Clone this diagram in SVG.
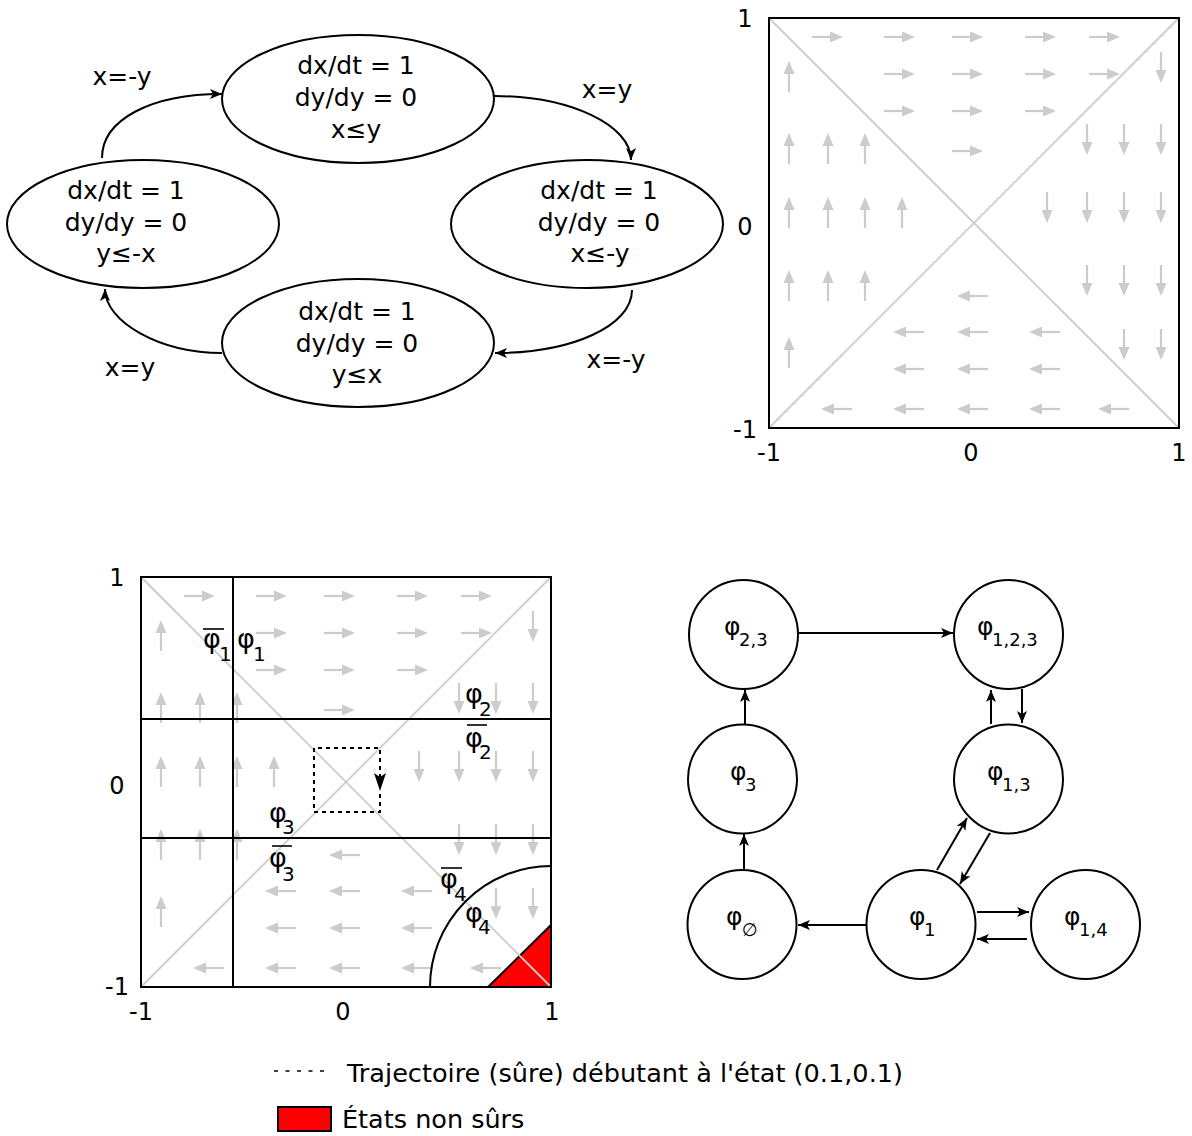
<svg xmlns="http://www.w3.org/2000/svg" xmlns:xlink="http://www.w3.org/1999/xlink" width="1192" height="1136" viewBox="0 0 1192 1136">
<style>
text{font-family:"DejaVu Sans","Liberation Sans",sans-serif;fill:#000}
.t{font-size:25px;text-anchor:middle}
.ax{font-size:24px;text-anchor:middle}
.ph{font-size:27px}
.sb{font-size:20px}
.gph{font-size:25px}
.gsb{font-size:18px}
.node{fill:#fff;stroke:#000;stroke-width:2}
.edge{fill:none;stroke:#000;stroke-width:2;marker-end:url(#m)}
.fs{stroke:#cccccc;stroke-width:2.2;fill:none}
.fh{fill:#cccccc}
.diag{stroke:#cccccc;stroke-width:1.8}
.box{fill:none;stroke:#000;stroke-width:2}
.bl{stroke:#000;stroke-width:2}
.ol{stroke:#000;stroke-width:1.6}
</style>
<defs>
<marker id="m" viewBox="-13 -6 14 12" refX="0" refY="0" markerWidth="14" markerHeight="12" orient="auto" markerUnits="userSpaceOnUse"><path d="M0,0L-12,-5L-9,0L-12,5Z" fill="#000"/></marker>
<g id="aR"><path class="fs" d="M0,0H20"/><path class="fh" d="M31,0L18,-5.5L18,5.5Z"/></g>
<g id="aL"><path class="fs" d="M0,0H-20"/><path class="fh" d="M-31,0L-18,-5.5L-18,5.5Z"/></g>
<g id="aU"><path class="fs" d="M0,0V-20"/><path class="fh" d="M0,-31L-5.5,-18L5.5,-18Z"/></g>
<g id="aD"><path class="fs" d="M0,0V20"/><path class="fh" d="M0,31L-5.5,18L5.5,18Z"/></g>
<g id="arrows">
<use href="#aR" x="43" y="19"/><use href="#aR" x="115" y="19"/><use href="#aR" x="183" y="19"/><use href="#aR" x="256" y="19"/><use href="#aR" x="320" y="19"/>
<use href="#aR" x="115" y="56"/><use href="#aR" x="183" y="56"/><use href="#aR" x="256" y="56"/><use href="#aR" x="320" y="56"/>
<use href="#aR" x="115" y="93"/><use href="#aR" x="183" y="93"/><use href="#aR" x="256" y="93"/>
<use href="#aR" x="183" y="133"/>
<use href="#aU" x="20" y="74"/>
<use href="#aU" x="20" y="146"/><use href="#aU" x="59" y="146"/><use href="#aU" x="96" y="146"/>
<use href="#aU" x="20" y="210"/><use href="#aU" x="59" y="210"/><use href="#aU" x="96" y="210"/><use href="#aU" x="133" y="210"/>
<use href="#aU" x="20" y="283"/><use href="#aU" x="59" y="283"/><use href="#aU" x="96" y="283"/>
<use href="#aU" x="20" y="350"/>
<use href="#aD" x="392" y="34"/>
<use href="#aD" x="318" y="106"/><use href="#aD" x="355" y="106"/><use href="#aD" x="392" y="106"/>
<use href="#aD" x="278" y="174"/><use href="#aD" x="318" y="174"/><use href="#aD" x="355" y="174"/><use href="#aD" x="392" y="174"/>
<use href="#aD" x="318" y="247"/><use href="#aD" x="355" y="247"/><use href="#aD" x="392" y="247"/>
<use href="#aD" x="355" y="311"/><use href="#aD" x="392" y="311"/>
<use href="#aL" x="219" y="278"/>
<use href="#aL" x="155" y="314"/><use href="#aL" x="219" y="314"/><use href="#aL" x="291" y="314"/>
<use href="#aL" x="155" y="351"/><use href="#aL" x="219" y="351"/><use href="#aL" x="291" y="351"/>
<use href="#aL" x="83" y="391"/><use href="#aL" x="155" y="391"/><use href="#aL" x="219" y="391"/><use href="#aL" x="291" y="391"/><use href="#aL" x="360" y="391"/>
</g>
</defs>

<!-- Top-left hybrid automaton -->
<g id="connectors-automaton">
<path class="edge" d="M102,158C102,120 150,94 222,94"/>
<path class="edge" d="M494,96C570,96 631,125 631,160"/>
<path class="edge" d="M632,290C632,326 572,353 495,353"/>
<path class="edge" d="M222,353C160,353 105,322 105,289"/>
<text class="t" x="122" y="85">x=-y</text>
<text class="t" x="607" y="98">x=y</text>
<text class="t" x="616" y="368">x=-y</text>
<text class="t" x="130" y="376">x=y</text>
</g>
<g id="state-top">
<ellipse class="node" cx="358" cy="99" rx="136" ry="64"/>
<text class="t" x="356" y="74">dx/dt = 1</text>
<text class="t" x="356" y="106">dy/dy = 0</text>
<text class="t" x="356" y="138">x≤y</text>
</g>
<g id="state-left">
<ellipse class="node" cx="143" cy="224" rx="136" ry="64"/>
<text class="t" x="126" y="199">dx/dt = 1</text>
<text class="t" x="126" y="231">dy/dy = 0</text>
<text class="t" x="126" y="262">y≤-x</text>
</g>
<g id="state-right">
<ellipse class="node" cx="587" cy="224" rx="136" ry="64"/>
<text class="t" x="599" y="199">dx/dt = 1</text>
<text class="t" x="599" y="231">dy/dy = 0</text>
<text class="t" x="600" y="262">x≤-y</text>
</g>
<g id="state-bottom">
<ellipse class="node" cx="358" cy="343" rx="136" ry="64"/>
<text class="t" x="357" y="320">dx/dt = 1</text>
<text class="t" x="357" y="352">dy/dy = 0</text>
<text class="t" x="357" y="383">y≤x</text>
</g>

<!-- Top-right vector field -->
<g id="field-top" transform="translate(769,18)">
<line class="diag" x1="0" y1="0" x2="410" y2="410"/>
<line class="diag" x1="0" y1="410" x2="410" y2="0"/>
<use href="#arrows"/>
<rect class="box" x="0" y="0" width="410" height="410"/>
</g>
<g id="field-top-axes">
<text class="ax" x="745" y="27">1</text>
<text class="ax" x="745" y="235">0</text>
<text class="ax" x="745" y="438">-1</text>
<text class="ax" x="769" y="461">-1</text>
<text class="ax" x="971" y="461">0</text>
<text class="ax" x="1179" y="461">1</text>
</g>

<!-- Bottom-left abstraction plot -->
<g id="field-bottom">
<g transform="translate(141,577)">
<path d="M347,410L410,410L410,348Z" fill="#ff0000" stroke="#000" stroke-width="2"/>
<line class="diag" x1="0" y1="0" x2="410" y2="410"/>
<line class="diag" x1="0" y1="410" x2="410" y2="0"/>
<use href="#arrows"/>
<rect class="box" x="0" y="0" width="410" height="410"/>
</g>
<line class="bl" x1="233" y1="577" x2="233" y2="987"/>
<line class="bl" x1="141" y1="719" x2="551" y2="719"/>
<line class="bl" x1="141" y1="838" x2="551" y2="838"/>
<path d="M430,987A121,121 0 0 1 551,866" fill="none" stroke="#000" stroke-width="2"/>
<path d="M380,778V748H314V812H380V790" fill="none" stroke="#000" stroke-width="2" stroke-dasharray="4,4"/>
<path d="M380,791L374,773L380,777L386,773Z" fill="#000"/>
<text class="ax" x="117" y="586">1</text>
<text class="ax" x="117" y="794">0</text>
<text class="ax" x="117" y="995">-1</text>
<text class="ax" x="141" y="1020">-1</text>
<text class="ax" x="343" y="1020">0</text>
<text class="ax" x="552" y="1020">1</text>
<line class="ol" x1="203" y1="629" x2="224" y2="629"/>
<text class="ph" x="203" y="648">φ<tspan class="sb" x="219" dy="13">1</tspan></text>
<text class="ph" x="237" y="648">φ<tspan class="sb" x="253" dy="13">1</tspan></text>
<text class="ph" x="465" y="703">φ<tspan class="sb" x="479" dy="13">2</tspan></text>
<line class="ol" x1="467" y1="725" x2="487" y2="725"/>
<text class="ph" x="465" y="747">φ<tspan class="sb" x="479" dy="12">2</tspan></text>
<text class="ph" x="269" y="822">φ<tspan class="sb" x="282" dy="12">3</tspan></text>
<line class="ol" x1="272" y1="846" x2="292" y2="846"/>
<text class="ph" x="269" y="867">φ<tspan class="sb" x="282" dy="14">3</tspan></text>
<line class="ol" x1="441" y1="868" x2="462" y2="868"/>
<text class="ph" x="440" y="888">φ<tspan class="sb" x="454" dy="13">4</tspan></text>
<text class="ph" x="465" y="922">φ<tspan class="sb" x="478" dy="12">4</tspan></text>
</g>

<!-- Bottom-right graph -->
<g id="connectors-graph">
<path class="edge" d="M798,633L953,633"/>
<path class="edge" d="M745,724L745,690"/>
<path class="edge" d="M991,724L991,690"/>
<path class="edge" d="M1022,689L1022,723"/>
<path class="edge" d="M744,869L744,834"/>
<path class="edge" d="M866,925L798,925"/>
<path class="edge" d="M937,870L967,818"/>
<path class="edge" d="M990,833L960,884"/>
<path class="edge" d="M977,912L1029,912"/>
<path class="edge" d="M1027,939L977,939"/>
</g>
<g id="n23"><circle class="node" cx="743.5" cy="634.5" r="54.5"/><text class="gph" x="724" y="635">φ<tspan class="gsb" x="739" dy="11">2,3</tspan></text></g>
<g id="n123"><circle class="node" cx="1008.5" cy="634.5" r="54.5"/><text class="gph" x="977" y="635">φ<tspan class="gsb" x="992" dy="11">1,2,3</tspan></text></g>
<g id="n3"><circle class="node" cx="742.5" cy="779" r="54.5"/><text class="gph" x="730" y="780">φ<tspan class="gsb" x="745" dy="11">3</tspan></text></g>
<g id="n13"><circle class="node" cx="1008.5" cy="779" r="54.5"/><text class="gph" x="987" y="780">φ<tspan class="gsb" x="1002" dy="11">1,3</tspan></text></g>
<g id="n0"><circle class="node" cx="742" cy="924.5" r="54.5"/><text class="gph" x="726" y="925">φ<tspan class="gsb" x="742" dy="11">∅</tspan></text></g>
<g id="n1"><circle class="node" cx="921" cy="924.5" r="54.5"/><text class="gph" x="909" y="925">φ<tspan class="gsb" x="924" dy="11">1</tspan></text></g>
<g id="n14"><circle class="node" cx="1085.5" cy="924.5" r="54.5"/><text class="gph" x="1064" y="925">φ<tspan class="gsb" x="1079" dy="11">1,4</tspan></text></g>

<!-- Legend -->
<g id="legend">
<line x1="274" y1="1071" x2="330" y2="1071" stroke="#000" stroke-width="1.6" stroke-dasharray="4,7.5"/>
<text x="347" y="1082" style="font-size:25.5px" textLength="556" lengthAdjust="spacingAndGlyphs">Trajectoire (sûre) débutant à l'état (0.1,0.1)</text>
<rect x="278" y="1107" width="53" height="24" fill="#ff0000" stroke="#000" stroke-width="2"/>
<text x="342" y="1128" style="font-size:25.5px">États non sûrs</text>
</g>
</svg>
